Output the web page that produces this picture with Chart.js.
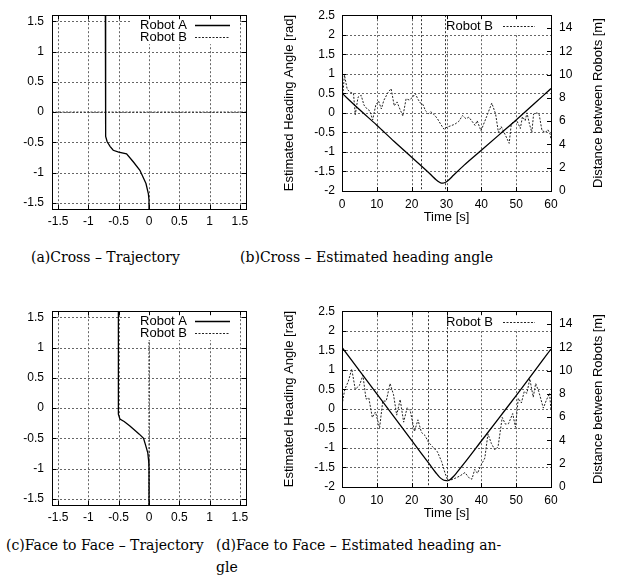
<!DOCTYPE html>
<html>
<head>
<meta charset="utf-8">
<script src="https://cdn.jsdelivr.net/npm/chart.js@4.4.0/dist/chart.umd.min.js"></script>
<style>
  html, body { margin: 0; padding: 0; background: #fff; }
  body { width: 632px; height: 582px; position: relative; overflow: hidden; }
  canvas { position: absolute; }
  .cap { position: absolute; font-family: "DejaVu Serif", serif; font-size: 14px; line-height: 16px; white-space: nowrap; color: #000; }
</style>
</head>
<body>
<canvas id="cross-traj" width="262" height="240" style="left:0;top:0"></canvas>
<canvas id="cross-head" width="356" height="240" style="left:276px;top:0"></canvas>
<canvas id="face-traj" width="262" height="240" style="left:0;top:296px"></canvas>
<canvas id="face-head" width="356" height="240" style="left:276px;top:296px"></canvas>

<div class="cap" style="left:31px;top:249px">(a)Cross – Trajectory</div>
<div class="cap" style="left:240px;top:249px">(b)Cross – Estimated heading angle</div>
<div class="cap" style="left:6px;top:537px">(c)Face to Face – Trajectory</div>
<div class="cap" style="left:216px;top:537px">(d)Face to Face – Estimated heading an-</div>
<div class="cap" style="left:216px;top:559px">gle</div>

<script>
// tick labels
const trajTicks = [-1.5, -1, -0.5, 0, 0.5, 1, 1.5];
const timeTicks = [0, 10, 20, 30, 40, 50, 60];
const angleTicks = [-2, -1.5, -1, -0.5, 0, 0.5, 1, 1.5, 2, 2.5];
const distTicks = [0, 2, 4, 6, 8, 10, 12, 14];

// (a) Cross - trajectory
const crossAx = [-0.72, -0.72, -0.71, -0.69, -0.64, -0.59, -0.50, -0.37, -0.26, -0.15, -0.05, -0.01, 0, 0];
const crossAy = [1.6, -0.27, -0.40, -0.49, -0.57, -0.63, -0.66, -0.69, -0.82, -0.96, -1.18, -1.35, -1.45, -1.6];
const crossBx = [-1.6, 1.6];
const crossBy = [0, 0];

// (c) Face to face - trajectory
const faceAx = [-0.505, -0.505, -0.48, -0.41, -0.32, -0.23, -0.16, -0.09, -0.06, -0.02, -0.005, 0, 0];
const faceAy = [1.6, -0.1, -0.18, -0.22, -0.29, -0.37, -0.43, -0.5, -0.6, -0.74, -0.88, -1.0, -1.6];
const faceBx = [0, 0];
const faceBy = [-1.6, 1.6];

// (b) Cross - distance [m] and estimated heading [rad]
const crossDistT = [0, 5, 10, 15, 20, 25, 26, 27, 28, 28.5, 29, 30, 31, 32, 35, 40, 45, 50, 55, 60];
const crossDist = [8.4, 7.0, 5.65, 4.25, 2.9, 1.55, 1.25, 0.97, 0.75, 0.68, 0.68, 0.8, 1.05, 1.35, 2.2, 3.5, 4.8, 6.1, 7.45, 8.8];
const crossHeadT = [0, 0.7, 1.5, 2.5, 3.3, 3.8, 4.6, 5.5, 6.3, 7.2, 8.0, 8.8, 9.7, 10.5, 11.3, 12.0, 13.2, 14.1, 15.0, 15.8,
  16.6, 17.5, 18.4, 19.3, 20.3, 21.0, 21.8, 22.5, 23.2, 24.0, 24.8, 25.5, 26.5, 27.4, 28.4, 29.3, 30.2, 31.0, 32.4, 33.5,
  34.6, 35.6, 36.4, 37.2, 38.2, 38.8, 39.9, 41.5, 43.0, 44.1, 44.9, 45.7, 46.8, 48.0, 48.6, 49.4, 50.2, 51.2, 51.8, 52.6,
  53.1, 53.8, 54.5, 55.0, 56.0, 56.6, 57.4, 58.4, 59.1, 59.8, 60];
const crossHead = [0.2, 0.97, 0.6, 0.52, 0.5, -0.05, 0.4, 0.45, 0.2, 0.1, 0.05, -0.18, 0.2, 0.3, 0.1, 0.32, 0.52, 0.62, 0.18, 0.28,
  0.1, -0.08, 0.36, 0.33, 0.4, 0.5, 0.35, 0.25, 0.22, 0.05, -0.02, 0.03, -0.05, -0.15, -0.3, -0.42, -0.36, -0.34, -0.29, -0.22,
  -0.07, -0.15, -0.11, -0.2, -0.32, -0.2, -0.46, -0.1, 0.25, -0.03, -0.5, -0.35, -0.55, -0.78, -0.28, -0.22, -0.2, -0.4, -0.1, -0.2,
  0, -0.28, -0.5, -0.03, 0, -0.04, -0.45, -0.5, -0.43, -0.55, -0.68];
const crossMarks = [22.8, 29.7];

// (d) Face to face - distance [m] and estimated heading [rad]
const faceDistT = [0, 5, 10, 15, 20, 25, 27, 28, 29, 29.5, 30, 30.5, 31, 32, 33, 35, 40, 45, 50, 55, 60];
const faceDist = [12.0, 10.0, 8.0, 6.0, 4.0, 2.0, 1.2, 0.85, 0.62, 0.56, 0.55, 0.56, 0.62, 0.9, 1.25, 2.0, 3.95, 5.9, 7.85, 9.85, 11.85];
const faceHeadT = [0, 0.8, 1.8, 2.8, 3.8, 5.0, 6.0, 6.9, 7.7, 8.7, 9.6, 10.8, 11.7, 12.7, 13.8, 14.8, 15.7, 16.7, 17.7, 18.7,
  19.6, 20.8, 21.8, 22.8, 23.8, 24.8, 26.0, 27.4, 28.6, 29.6, 30.4, 31.9, 33.8, 35.3, 36.4, 37.3, 38.1, 38.9, 39.6, 40.3,
  41.0, 41.9, 42.9, 43.9, 44.8, 46.0, 46.9, 47.8, 49.0, 49.8, 50.6, 51.5, 52.3, 53.1, 53.9, 54.9, 55.6, 56.5, 57.8, 58.7,
  59.6, 60];
const faceHead = [0.1, 0.5, 0.7, 1.02, 0.5, 0.6, 0.86, 0.25, 0.28, -0.22, -0.08, -0.48, 0.2, 0.2, 0.65, 0.36, -0.16, 0.24, -0.34, 0.03,
  -0.05, -0.58, -0.28, -0.6, -0.68, -0.85, -0.97, -1.1, -1.35, -1.65, -1.84, -1.80, -1.72, -1.63, -1.76, -1.80, -1.55, -1.65, -1.5, -1.38,
  -1.26, -0.64, -0.89, -1.05, -0.97, -0.22, -0.39, -0.38, -0.12, -0.47, 0.27, 0.15, 0.44, 0.4, 0.77, 0.30, 0.65, 0.44, 0.02, 0.23,
  0.4, -0.05];
const faceMarks = [24.8, 30];

const SANS = '"Liberation Sans", Arial, sans-serif';
Chart.defaults.font.family = SANS;
Chart.defaults.font.size = 12;
Chart.defaults.color = '#000';

function pts(xs, ys) { return xs.map((x, i) => ({ x, y: ys[i] })); }
function fixTicks(list) { return s => { s.ticks = list.map(v => ({ value: v })); }; }
const px = v => Math.round(v) + 0.5;

// dashed segment drawn as short strokes
function dashed(ctx, x1, y1, x2, y2, on, off) {
  const len = Math.hypot(x2 - x1, y2 - y1);
  const ux = (x2 - x1) / len, uy = (y2 - y1) / len;
  for (let d = 0; d < len; d += on + off) {
    const e = Math.min(d + on, len);
    ctx.moveTo(x1 + ux * d, y1 + uy * d);
    ctx.lineTo(x1 + ux * e, y1 + uy * e);
  }
}

// gnuplot look: dotted grid, opaque key, marker lines, inward tics, frame
const gnuplotDecor = {
  id: 'gp',
  beforeDatasetsDraw(chart) {
    const { ctx, chartArea: a, scales } = chart;
    const xs = scales.x.ticks.map(t => px(scales.x.getPixelForValue(t.value)))
      .filter(x => x > a.left + 1 && x < a.right - 1);
    const ys = scales.y.ticks.map(t => px(scales.y.getPixelForValue(t.value)))
      .filter(y => y > a.top + 1 && y < a.bottom - 1);
    ctx.save();
    ctx.strokeStyle = '#666666';
    ctx.lineWidth = 1;
    ctx.beginPath();
    xs.forEach(x => dashed(ctx, x, a.top, x, a.bottom, 2, 2));
    ys.forEach(y => dashed(ctx, a.left, y, a.right, y, 2, 2));
    ctx.stroke();
    ctx.restore();
  },
  afterDatasetsDraw(chart, args, opts) {
    const { ctx, chartArea: a, scales } = chart;
    ctx.save();

    const k = opts.key;
    if (k) {
      ctx.fillStyle = '#fff';
      ctx.fillRect(a.right - k.boxR - k.boxW, a.top + 1, k.boxW, k.boxH);
      ctx.font = '13px ' + SANS;
      ctx.textAlign = 'right';
      ctx.textBaseline = 'middle';
      k.items.forEach((it, i) => {
        const y = px(a.top + k.y0 + i * 12.5);
        ctx.fillStyle = '#000';
        ctx.fillText(it.label, a.right - k.textR, y);
        ctx.beginPath();
        ctx.setLineDash(it.dash || []);
        ctx.lineWidth = it.width;
        ctx.strokeStyle = it.color;
        ctx.moveTo(a.right - k.lineR0, y);
        ctx.lineTo(a.right - k.lineR1, y);
        ctx.stroke();
      });
      ctx.setLineDash([]);
    }

    ctx.strokeStyle = '#333';
    ctx.lineWidth = 1;
    ctx.beginPath();
    (opts.markers || []).forEach(t => {
      const x = px(scales.x.getPixelForValue(t));
      dashed(ctx, x, a.top, x, a.bottom, 2, 2);
    });
    ctx.stroke();

    ctx.strokeStyle = '#000';
    const L = 4;
    ctx.beginPath();
    scales.x.ticks.forEach(t => {
      const x = px(scales.x.getPixelForValue(t.value));
      ctx.moveTo(x, a.bottom); ctx.lineTo(x, a.bottom - L);
      ctx.moveTo(x, a.top); ctx.lineTo(x, a.top + L);
    });
    scales.y.ticks.forEach(t => {
      const y = px(scales.y.getPixelForValue(t.value));
      ctx.moveTo(a.left, y); ctx.lineTo(a.left + L, y);
      if (!scales.y2) { ctx.moveTo(a.right, y); ctx.lineTo(a.right - L, y); }
    });
    if (scales.y2) {
      scales.y2.ticks.forEach(t => {
        const y = px(scales.y2.getPixelForValue(t.value));
        ctx.moveTo(a.right, y); ctx.lineTo(a.right - L, y);
      });
    }
    ctx.stroke();
    ctx.strokeRect(px(a.left), px(a.top), Math.round(a.right - a.left), Math.round(a.bottom - a.top));

    if (opts.rightTitle) {
      ctx.save();
      ctx.translate(opts.rightTitle.x, (a.top + a.bottom) / 2);
      ctx.rotate(-Math.PI / 2);
      ctx.font = '13px ' + SANS;
      ctx.fillStyle = '#000';
      ctx.textAlign = 'center';
      ctx.textBaseline = 'middle';
      ctx.fillText(opts.rightTitle.text, 0, 0);
      ctx.restore();
    }
    ctx.restore();
  }
};

const solidKey = { label: 'Robot A', color: '#000', width: 1.3, dash: [] };
const dottedKey = { label: 'Robot B', color: '#222', width: 1, dash: [2, 1.5] };
const NOGRID = { display: false, drawTicks: false };

function trajectoryChart(id, ax, ay, bx, by) {
  return new Chart(document.getElementById(id), {
    type: 'scatter',
    data: {
      datasets: [
        { label: 'Robot A', data: pts(ax, ay), showLine: true, borderColor: '#000', borderWidth: 1.3, pointRadius: 0 },
        { label: 'Robot B', data: pts(bx, by), showLine: true, borderColor: '#222', borderWidth: 1, borderDash: [2, 1.5], pointRadius: 0 },
      ],
    },
    options: {
      responsive: false,
      animation: false,
      events: [],
      layout: { padding: { left: 0, right: 16, top: 15, bottom: 0 } },
      plugins: {
        legend: { display: false },
        tooltip: { enabled: false },
        gp: {
          key: { boxW: 106, boxR: 8, boxH: 28, y0: 9.5, textR: 59, lineR0: 51, lineR1: 16, items: [solidKey, dottedKey] },
        },
      },
      scales: {
        x: {
          type: 'linear', min: -1.6, max: 1.6,
          afterBuildTicks: fixTicks(trajTicks),
          afterFit: s => { s.height = 31; },
          grid: NOGRID, border: { display: false },
          ticks: { padding: 5, callback: v => String(v) },
        },
        y: {
          type: 'linear', min: -1.6, max: 1.6,
          afterBuildTicks: fixTicks(trajTicks),
          afterFit: s => { s.width = 52; },
          grid: NOGRID, border: { display: false },
          ticks: { padding: 8, callback: v => String(v) },
        },
      },
    },
    plugins: [gnuplotDecor],
  });
}

function headingChart(id, distT, dist, headT, head, marks) {
  return new Chart(document.getElementById(id), {
    type: 'scatter',
    data: {
      datasets: [
        { label: 'Distance', data: pts(distT, dist), yAxisID: 'y2', showLine: true, borderColor: '#000', borderWidth: 1.3,
          pointRadius: 0, cubicInterpolationMode: 'monotone' },
        { label: 'Robot B', data: pts(headT, head), yAxisID: 'y', showLine: true, borderColor: '#222', borderWidth: 1,
          borderDash: [2, 1.5], pointRadius: 0 },
      ],
    },
    options: {
      responsive: false,
      animation: false,
      events: [],
      layout: { padding: { left: 0, right: 0, top: 10, bottom: 0 } },
      plugins: {
        legend: { display: false },
        tooltip: { enabled: false },
        gp: {
          key: { boxW: 106, boxR: 2, boxH: 17, y0: 10.5, textR: 58, lineR0: 48, lineR1: 16, items: [dottedKey] },
          markers: marks,
          rightTitle: { text: 'Distance between Robots [m]', x: 322 },
        },
      },
      scales: {
        x: {
          type: 'linear', min: 0, max: 60,
          afterBuildTicks: fixTicks(timeTicks),
          afterFit: s => { s.height = 49; },
          grid: NOGRID, border: { display: false },
          ticks: { padding: 6, callback: v => String(v) },
          title: { display: true, text: 'Time [s]', font: { size: 13 }, padding: { top: 0, bottom: 15 } },
        },
        y: {
          type: 'linear', position: 'left', min: -2, max: 2.5,
          afterBuildTicks: fixTicks(angleTicks),
          afterFit: s => { s.width = 66; },
          grid: NOGRID, border: { display: false },
          ticks: { padding: 7, callback: v => String(v) },
          title: { display: true, text: 'Estimated Heading Angle [rad]', font: { size: 13 }, padding: { top: 6, bottom: 0 } },
        },
        y2: {
          type: 'linear', position: 'right', min: 0, max: 15.1,
          afterBuildTicks: fixTicks(distTicks),
          afterFit: s => { s.width = 81; },
          grid: NOGRID, border: { display: false },
          ticks: { padding: 8, callback: v => String(v) },
        },
      },
    },
    plugins: [gnuplotDecor],
  });
}

trajectoryChart('cross-traj', crossAx, crossAy, crossBx, crossBy);
headingChart('cross-head', crossDistT, crossDist, crossHeadT, crossHead, crossMarks);
trajectoryChart('face-traj', faceAx, faceAy, faceBx, faceBy);
headingChart('face-head', faceDistT, faceDist, faceHeadT, faceHead, faceMarks);
</script>
</body>
</html>
